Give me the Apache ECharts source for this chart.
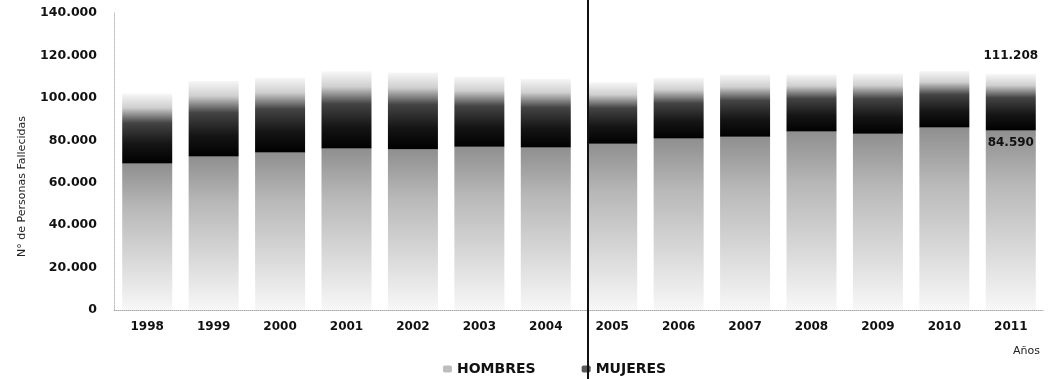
<!DOCTYPE html>
<html>
<head>
<meta charset="utf-8">
<script src="https://cdn.jsdelivr.net/npm/echarts@6/dist/echarts.min.js"></script>
<style>
html,body{margin:0;padding:0;background:#fff;}
#chart{width:1049px;height:379px;}
</style>
</head>
<body>
<div id="chart"></div>
<script>
// años y fallecidos por sexo
const years = ['1998','1999','2000','2001','2002','2003','2004','2005','2006','2007','2008','2009','2010','2011'];
const hombres = [69000, 72300, 74200, 76100, 75800, 77000, 76600, 78400, 80800, 81700, 84100, 83100, 86000, 84590];
const mujeres = [33000, 35700, 35300, 36400, 36200, 33000, 32400, 28900, 28700, 29300, 26900, 28400, 26700, 26618];
const yTicks = [0, 20000, 40000, 60000, 80000, 100000, 120000, 140000];

function fmt(n){
    return String(Math.round(n)).replace(/\B(?=(\d{3})+(?!\d))/g, '.');
}

const last = years.length - 1;
const font = 'DejaVu Sans';

let chart = echarts.init(document.getElementById('chart'));
let option = {
    animation: false,
    textStyle: { fontFamily: font },
    grid: { left: 114, right: 5, top: 13, bottom: 69 },
    title: {
        text: 'Años', right: 4, top: 341,
        textStyle: { fontFamily: font, fontSize: 11, fontWeight: 'normal', color: '#222' }
    },
    legend: {
        left: 438, top: 357,
        itemWidth: 9, itemHeight: 7, itemGap: 46,
        textStyle: { fontFamily: font, fontSize: 14, fontWeight: 'bold', color: '#111' },
        data: [
            { name: 'HOMBRES', itemStyle: { color: '#bdbdbd' } },
            { name: 'MUJERES', itemStyle: { color: '#5a5a5a' } }
        ]
    },
    xAxis: {
        type: 'category',
        data: years,
        axisTick: { show: false },
        axisLine: { lineStyle: { color: '#aaa', type: 'dotted', width: 1 } },
        axisLabel: { fontFamily: font, fontSize: 12, fontWeight: 'bold', color: '#111', margin: 11 }
    },
    yAxis: {
        type: 'value',
        min: yTicks[0], max: yTicks[yTicks.length - 1], interval: yTicks[1] - yTicks[0],
        name: 'N° de Personas Fallecidas',
        nameLocation: 'middle', nameGap: 86,
        nameTextStyle: { fontFamily: font, fontSize: 11, color: '#222', padding: [0, 0, 0, -50] },
        splitLine: { show: false },
        axisLine: { show: true, lineStyle: { color: '#bbb', type: 'dotted', width: 1 } },
        axisLabel: { fontFamily: font, fontSize: 12.5, fontWeight: 'bold', color: '#111', margin: 17, formatter: fmt }
    },
    series: [
        {
            name: 'HOMBRES', type: 'bar', stack: 'total', barWidth: 50,
            itemStyle: {
                color: new echarts.graphic.LinearGradient(0, 0, 0, 1, [
                    { offset: 0, color: '#8f8f8f' },
                    { offset: 0.3, color: '#b8b8b8' },
                    { offset: 1, color: '#f7f7f7' }
                ])
            },
            data: hombres.map((v, i) => i === last ? {
                value: v,
                label: { show: true, position: 'insideTop', distance: 6, formatter: p => fmt(p.value),
                         fontFamily: font, fontSize: 12, fontWeight: 'bold', color: '#111' }
            } : v)
        },
        {
            name: 'MUJERES', type: 'bar', stack: 'total', barWidth: 50,
            itemStyle: {
                color: new echarts.graphic.LinearGradient(0, 0, 0, 1, [
                    { offset: 0, color: '#f7f7f7' },
                    { offset: 0.2, color: '#cfcfcf' },
                    { offset: 0.42, color: '#444444' },
                    { offset: 0.72, color: '#151515' },
                    { offset: 1, color: '#000000' }
                ])
            },
            data: mujeres.map((v, i) => i === last ? {
                value: v,
                label: { show: true, position: 'top', distance: 12, formatter: p => fmt(p.value + hombres[last]),
                         fontFamily: font, fontSize: 12, fontWeight: 'bold', color: '#111' }
            } : v)
        }
    ],
    graphic: [
        { type: 'line', shape: { x1: 588, y1: 0, x2: 588, y2: 379 }, style: { stroke: '#111', lineWidth: 2 }, z: 100 }
    ]
};
chart.setOption(option);
</script>
</body>
</html>
